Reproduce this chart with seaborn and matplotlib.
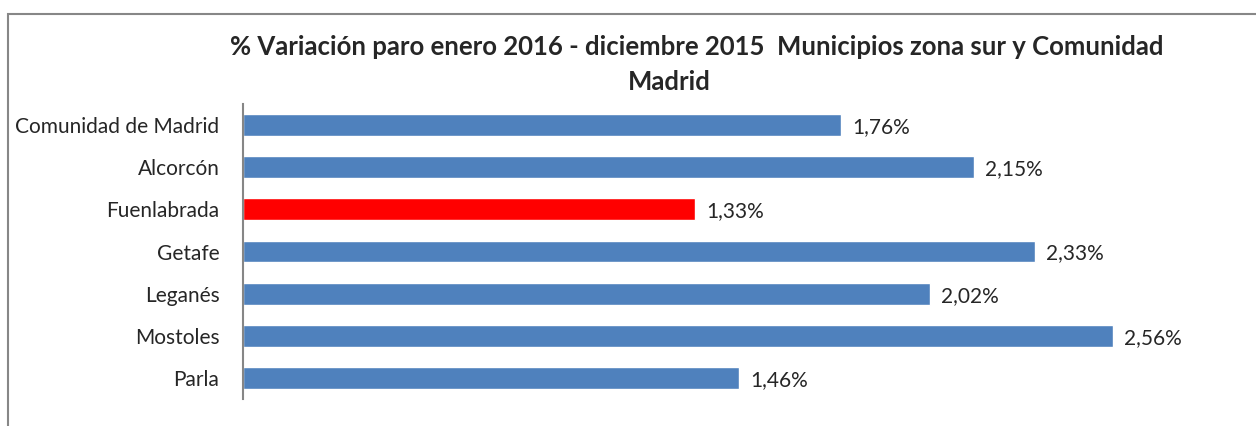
import matplotlib
matplotlib.use("Agg")
import matplotlib.pyplot as plt
from matplotlib.patches import Rectangle
import seaborn as sns

# Data
municipios = ["Comunidad de Madrid", "Alcorcón", "Fuenlabrada", "Getafe",
              "Leganés", "Mostoles", "Parla"]
variacion = [1.76, 2.15, 1.33, 2.33, 2.02, 2.56, 1.46]
colores = ["#4F81BD", "#4F81BD", "#FF0000", "#4F81BD", "#4F81BD", "#4F81BD", "#4F81BD"]

sns.set_style("white")
plt.rcParams['font.family'] = ['Lato', 'DejaVu Sans']

fig = plt.figure(figsize=(12.56, 4.26), dpi=100)
ax = fig.add_axes([243 / 1256, 1 - 399 / 426, 1 - 243 / 1256, 295 / 426])

sns.barplot(x=variacion, y=municipios, hue=municipios, palette=colores,
            orient="h", width=0.52, legend=False, saturation=1, ax=ax)

for i, v in enumerate(variacion):
    ax.annotate(f"{v:.2f}%".replace(".", ","), xy=(v, i), xytext=(11, -2),
                textcoords="offset pixels", va="center", ha="left", fontsize=15)

ax.set_xlim(0, (1256 - 243) / 340)
ax.set_ylim(6.5, -0.5)
ax.set_xlabel("")
ax.set_ylabel("")
ax.set_xticks([])
ax.tick_params(axis="y", length=0, pad=17, labelsize=15)
for s in ["top", "right", "bottom"]:
    ax.spines[s].set_visible(False)
ax.spines["left"].set_color("#868686")
ax.spines["left"].set_linewidth(1.5)

fig.text(697 / 1256, 1 - 47 / 426,
         "% Variación paro enero 2016 - diciembre 2015  Municipios zona sur y Comunidad",
         ha="center", va="center", fontsize=18.5, fontweight="bold")
fig.text(669 / 1256, 1 - 82 / 426, "Madrid",
         ha="center", va="center", fontsize=18.5, fontweight="bold")

fig.add_artist(Rectangle((8 / 1256, -0.1), 1.2, 1 - 14 / 426 + 0.1, fill=False,
                         edgecolor="#878787", linewidth=1.5, transform=fig.transFigure))

fig.savefig("out.png", dpi=100)
